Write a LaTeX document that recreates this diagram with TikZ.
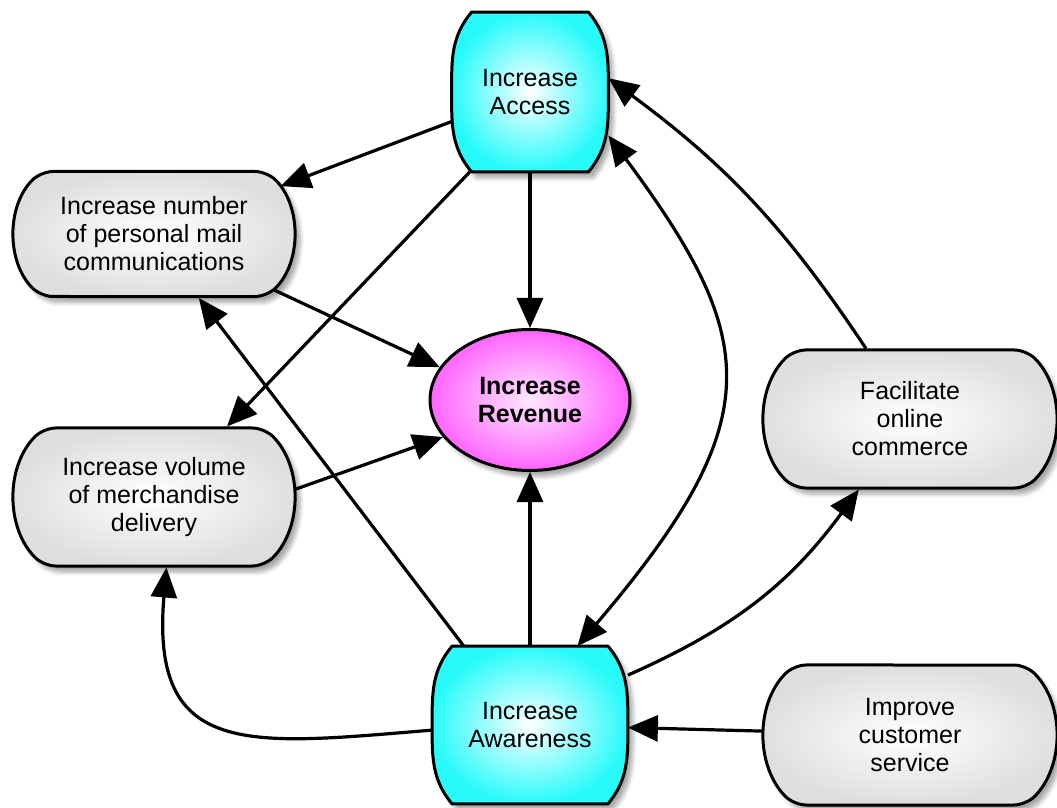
\documentclass[tikz,border=0pt]{standalone}
\usepackage{fontspec}
\setmainfont{Liberation Sans}
\usetikzlibrary{shapes.misc, shapes.geometric, arrows.meta, shadows.blur, backgrounds}

\definecolor{boxgray}{RGB}{222,222,222}
\definecolor{boxcyan}{RGB}{40,250,250}
\definecolor{boxpink}{RGB}{255,100,255}

% outline of a cyan box with bulging sides, round a named node
\newcommand\barrelpath[1]{([xshift = 10pt]#1.north west) -- ([xshift = -10pt]#1.north east)
    to [out = -50, in = 90] (#1.east) to [out = -90, in = 50] ([xshift = -10pt]#1.south east)
    -- ([xshift = 10pt]#1.south west) to [out = 130, in = -90] (#1.west)
    to [out = 90, in = 230] ([xshift = 10pt]#1.north west) -- cycle}

\tikzset{
    shadowed/.style = {blur shadow = {shadow xshift = 2.5pt, shadow yshift = -3pt, shadow blur steps = 6, shadow opacity = 35}},
    label text/.style = {inner sep = 0pt, align = center, font = \fontsize{12.5}{14}\selectfont},
    barrel/.style = {label text, draw = black, line width = 1.5pt, rounded rectangle, rounded rectangle arc length = 90,
        rounded corners = 6pt, inner color = white, outer color = boxgray, shadowed},
    access fill/.style = {draw = black, line width = 1.5pt, line join = round, inner color = white, outer color = boxcyan, shadowed},
    access/.style = {label text, rectangle},
    goal/.style = {label text, font = \fontsize{12.5}{14}\selectfont\bfseries, draw = black, line width = 1.5pt, ellipse,
        inner color = boxpink!15, outer color = boxpink, shadowed},
    link/.style = {line width = 1.6pt, -{Triangle[length = 15pt, width = 13pt]}},
}

\begin{document}
\begin{tikzpicture}[x = 0.5pt, y = -0.5pt]
        \useasboundingbox (0,0) rectangle (1057,808) ;

        \node [access, minimum width = 78pt, minimum height = 79.5pt] (acc) at (530,92) {Increase\\Access} ;
        \node [access, minimum width = 97.5pt, minimum height = 78.5pt] (awa) at (530,725) {Increase\\Awareness} ;
        \node [goal, minimum width = 100pt, minimum height = 70.5pt] (rev) at (530,400) {Increase\\Revenue} ;

        \node [barrel, minimum width = 139pt, minimum height = 62.5pt] (mail) at (154,234) {Increase number\\of personal mail\\communications} ;
        \node [barrel, minimum width = 139pt, minimum height = 69pt] (vol) at (154,497) {Increase volume\\of merchandise\\delivery} ;
        \node [barrel, minimum width = 145pt, minimum height = 69pt] (fac) at (910,419) {Facilitate\\online\\commerce} ;
        \node [barrel, minimum width = 145pt, minimum height = 70pt] (imp) at (910,735) {Improve\\customer\\service} ;

        \begin{scope}[on background layer]
            \path [access fill] \barrelpath{acc} ;
            \path [access fill] \barrelpath{awa} ;
        \end{scope}

        % from the access box
        \draw [link] (acc) -- (mail) ;
        \draw [link] (acc) -- (rev) ;
        \draw [link] (acc.233) -- (vol.44) ;

        % into the revenue goal
        \draw [link] (mail.335) -- (rev.160) ;
        \draw [link] (vol.3) -- (rev.203) ;
        \draw [link] (awa) -- (rev) ;

        % from the awareness box
        \draw [link] (awa.130) -- (mail.305) ;
        \draw [link, {Triangle[length = 15pt, width = 13pt]}-{Triangle[length = 15pt, width = 13pt]}]
            (awa.59) .. controls (770,420) and (760,340) .. (acc.331) ;
        \draw [link] (awa.27) to [bend right = 15] (fac.234) ;
        \draw [link] (awa.183) .. controls (250,745) and (150,760) .. (vol.280) ;

        \draw [link] (fac.122) to [bend right = 10] (acc.10) ;
        \draw [link] (imp) -- (awa) ;
    \end{tikzpicture}
\end{document}
